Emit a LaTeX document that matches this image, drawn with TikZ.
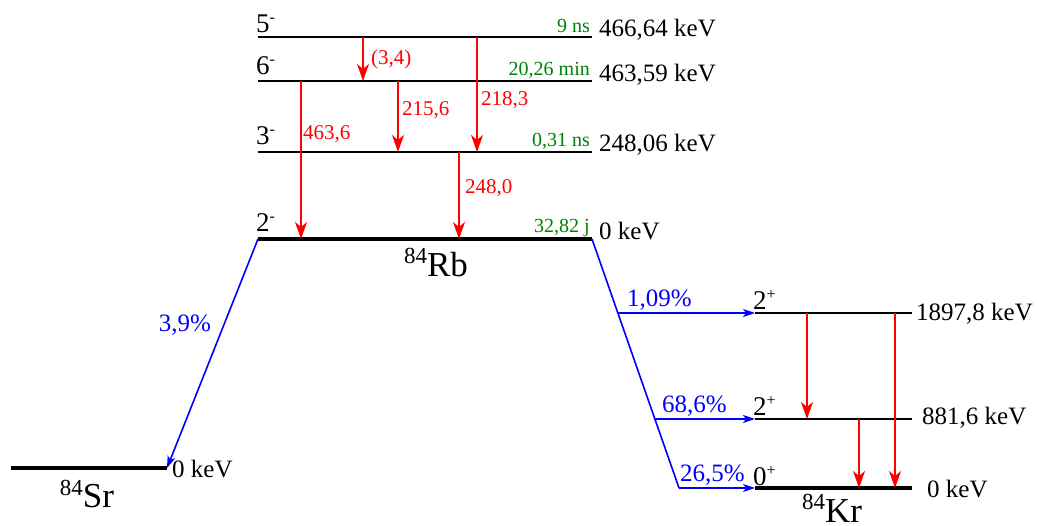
\documentclass[tikz,border=0pt]{standalone}
\usepackage{fontspec}
\setmainfont{Liberation Serif}
\usetikzlibrary{arrows.meta,calc}
\definecolor{lifegreen}{RGB}{0,128,0}
\newcommand{\spinpar}[2]{#1\raisebox{10pt}{\fontsize{16}{16}\selectfont #2}}
\newcommand{\nuclide}[2]{\raisebox{13pt}{\fontsize{23}{23}\selectfont #1}#2}
\tikzset{
  level/.style={line width=2pt},
  ground/.style={line width=4pt},
  gamma/.style={red, line width=1.3pt, -{Stealth[length=17pt,width=12pt,inset=5pt]}},
  beta/.style={blue, line width=1.6pt},
  betaarrow/.style={beta, -{Stealth[length=12pt,width=8pt,inset=3pt]}},
  energy/.style={font=\fontsize{25}{30}\selectfont, anchor=base west},
  spin/.style={font=\fontsize{27}{30}\selectfont, anchor=base west},
  halflife/.style={font=\fontsize{20}{24}\selectfont, text=lifegreen, anchor=base east},
  glabel/.style={font=\fontsize{21}{25}\selectfont, text=red, anchor=west},
  blabel/.style={font=\fontsize{25}{30}\selectfont, text=blue, anchor=base west},
  isotope/.style={font=\fontsize{35}{40}\selectfont, anchor=base}
}
\begin{document}
\begin{tikzpicture}[x=1pt, y=-1pt, every node/.style={inner sep=0pt}]
  \useasboundingbox (0,0) rectangle (1037,526);

  % Rb84 level ends
  \coordinate (R5a) at (258,37);  \coordinate (R5b) at (592,37);
  \coordinate (R6a) at (258,81);  \coordinate (R6b) at (592,81);
  \coordinate (R3a) at (258,152); \coordinate (R3b) at (592,152);
  \coordinate (R2a) at (258,239); \coordinate (R2b) at (592,239);
  % Sr84 and Kr84 level ends
  \coordinate (S0a) at (11,468);  \coordinate (S0b) at (167,468);
  \coordinate (K2a) at (755,313); \coordinate (K2b) at (912,313);
  \coordinate (K1a) at (755,419); \coordinate (K1b) at (912,419);
  \coordinate (K0a) at (755,488); \coordinate (K0b) at (912,488);
  \coordinate (kink) at (679,488);

  % Draw levels
  \draw[level] (R5a) -- (R5b);
  \draw[level] (R6a) -- (R6b);
  \draw[level] (R3a) -- (R3b);
  \draw[ground] (R2a) -- (R2b);
  \draw[ground] (S0a) -- (S0b);
  \draw[level] (K2a) -- (K2b);
  \draw[level] (K1a) -- (K1b);
  \draw[ground] (K0a) -- (K0b);

  % Spins, energies and half-lives of Rb84
  \node[spin] (s5) at (256,33) {\spinpar{5}{-}};
  \node[spin] (s6) at (256,75) {\spinpar{6}{-}};
  \node[spin] (s3) at (256,145) {\spinpar{3}{-}};
  \node[spin] (s2) at (256,232) {\spinpar{2}{-}};
  \node[energy] (e5) at (599,37) {466,64 keV};
  \node[energy] (e6) at (599,82) {463,59 keV};
  \node[energy] (e3) at (599,152) {248,06 keV};
  \node[energy] (e2) at (599,240) {0 keV};
  \node[halflife] (t5) at (590,33) {9 ns};
  \node[halflife] (t6) at (590,76) {20,26 min};
  \node[halflife] (t3) at (590,147) {0,31 ns};
  \node[halflife] (t2) at (590,233) {32,82 j};
  \node[isotope] (Rb) at (436,277) {\nuclide{84}{Rb}};

  % Gamma lines in Rb84
  \coordinate (x1) at (363,0);
  \coordinate (x2) at (477,0);
  \coordinate (x3) at (301,0);
  \coordinate (x4) at (398,0);
  \coordinate (x5) at (459,0);
  \draw[gamma] (x1 |- R5a) -- (x1 |- R6a);
  \draw[gamma] (x2 |- R5a) -- (x2 |- R3a);
  \draw[gamma] (x3 |- R6a) -- (x3 |- R2a);
  \draw[gamma] (x4 |- R6a) -- (x4 |- R3a);
  \draw[gamma] (x5 |- R3a) -- (x5 |- R2a);
  \node[glabel] (g1) at (371,59) {(3,4)};
  \node[glabel] (g2) at (481,100) {218,3};
  \node[glabel] (g3) at (303,134) {463,6};
  \node[glabel] (g4) at (402,110) {215,6};
  \node[glabel] (g5) at (465,188) {248,0};

  % Beta+ / EC to Sr84
  \draw[betaarrow] (R2a) -- (S0b);
  \node[font=\fontsize{25}{30}\selectfont, text=blue] (b1) at (185,325) {3,9\%};
  \node[anchor=west, font=\fontsize{25}{30}\selectfont] (eS) at (172,469) {0 keV};
  \node[isotope] (Sr) at (87,508) {\nuclide{84}{Sr}};

  % Beta- to Kr84
  \draw[beta] (R2b) -- (kink);
  \draw[betaarrow] ($(R2b)!0.297!(kink)$) -- (K2a);
  \draw[betaarrow] ($(R2b)!0.723!(kink)$) -- (K1a);
  \draw[betaarrow] (kink) -- (K0a);
  \node[blabel] (b2) at (627,307) {1,09\%};
  \node[blabel] (b3) at (662,413) {68,6\%};
  \node[blabel] (b4) at (680,482) {26,5\%};

  % Kr84 levels
  \node[spin] (k2) at (753,310) {\spinpar{2}{+}};
  \node[spin] (k1) at (753,416) {\spinpar{2}{+}};
  \node[spin] (k0) at (753,486) {\spinpar{0}{+}};
  \node[energy] (f2) at (916,321) {1897,8 keV};
  \node[energy] (f1) at (922,425) {881,6 keV};
  \node[energy] (f0) at (927,498) {0 keV};
  \node[isotope] (Kr) at (832,522) {\nuclide{84}{Kr}};

  % Gamma lines in Kr84
  \coordinate (y1) at (807,0);
  \coordinate (y2) at (859,0);
  \coordinate (y3) at (895,0);
  \draw[gamma] (y1 |- K2a) -- (y1 |- K1a);
  \draw[gamma] (y2 |- K1a) -- (y2 |- K0a);
  \draw[gamma] (y3 |- K2a) -- (y3 |- K0a);
\end{tikzpicture}
\end{document}
